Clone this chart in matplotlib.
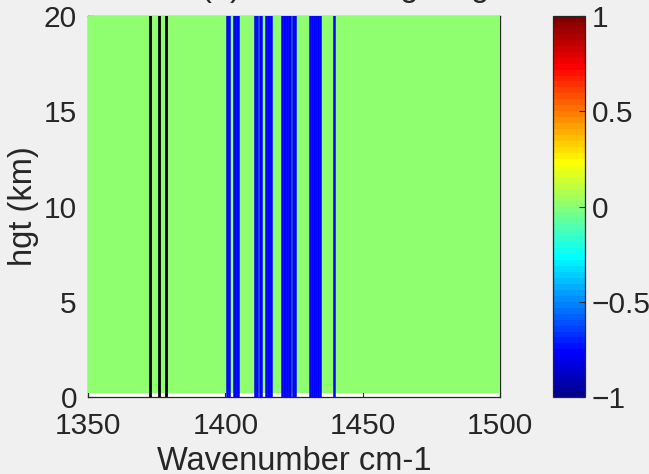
import matplotlib
matplotlib.use("Agg")
import matplotlib.pyplot as plt
import numpy as np
from matplotlib.colors import ListedColormap

plt.rcParams['font.family'] = ['Liberation Sans', 'DejaVu Sans']

# field shown with pcolor (flat zero everywhere)
wn_edges = [1350, 1500]
hgt_edges = [0.2, 20]
field = [[0.0]]

# channel markers
black_wn = [1372.7, 1375.85, 1378.5]
blue_wn = [1400.6, 1401.3,
           1403.05, 1403.6, 1404.1, 1404.6,
           1410.8, 1411.5,
           1412.5, 1413.1,
           1414.9, 1415.5, 1416.0, 1416.5,
           1420.6, 1421.2, 1421.8, 1422.4, 1423.0, 1423.5,
           1424.6, 1425.2,
           1430.9, 1431.6, 1432.3,
           1433.0, 1433.7, 1434.5,
           1439.4]

xticks = [1350, 1400, 1450, 1500]
yticks = [0, 5, 10, 15, 20]
cb_ticks = [-1, -0.5, 0, 0.5, 1]
cb_labels = ['\u22121', '\u22120.5', '0', '0.5', '1']
title_txt = 'Lines (a) Water Weighting'


def matlab_jet(m=64):
    # same recipe as matlab's jet(m)
    n = int(np.ceil(m / 4))
    u = np.concatenate([np.arange(1, n + 1) / n, np.ones(n - 1), np.arange(n, 0, -1) / n])
    g = int(np.ceil(n / 2)) - int(m % 4 == 1) + np.arange(1, len(u) + 1)
    r = g + n
    b = g - n
    cm = np.zeros((m, 3))
    cm[r[r <= m] - 1, 0] = u[r <= m]
    cm[g[g <= m] - 1, 1] = u[g <= m]
    cm[b[b >= 1] - 1, 2] = u[b >= 1]
    return ListedColormap(cm)


W, H = 649, 474
txt_col = '#262626'
fig = plt.figure(figsize=(W / 100, H / 100), dpi=100, facecolor='#f0f0f0')
ax = fig.add_axes([88 / W, (H - 397) / H, 412 / W, 381 / H])
ax.set_facecolor('white')

mesh = ax.pcolormesh(wn_edges, hgt_edges, np.array(field), cmap=matlab_jet(64),
                     vmin=-1, vmax=1, zorder=3)
for w in black_wn:
    ax.axvline(w, color='black', lw=2.0, zorder=4)
for w in blue_wn:
    ax.axvline(w, color='blue', lw=1.8, zorder=4)

ax.set_xlim(1350, 1500)
ax.set_ylim(0, 20)
ax.set_xticks(xticks)
ax.set_yticks(yticks)
ax.tick_params(direction='in', length=4, width=0.8, color=txt_col,
               labelsize=21.5, labelcolor=txt_col)
ax.tick_params(axis='x', pad=11)
ax.tick_params(axis='y', pad=8)
for s in ax.spines.values():
    s.set_color(txt_col)
    s.set_linewidth(0.9)
ax.set_xlabel('Wavenumber cm-1', fontsize=23.5, color=txt_col, labelpad=4)
ax.set_ylabel('hgt (km)', fontsize=23.5, color=txt_col, labelpad=3)

fig.text(114 / W, (H + 4) / H, title_txt, fontsize=23.5, color=txt_col,
         ha='left', va='baseline')

cax = fig.add_axes([553 / W, (H - 397) / H, 31.5 / W, 381 / H])
cb = fig.colorbar(mesh, cax=cax, ticks=cb_ticks)
cb.set_ticklabels(cb_labels)
cb.outline.set_edgecolor(txt_col)
cb.outline.set_linewidth(0.9)
cax.tick_params(direction='in', length=4, width=0.8, color=txt_col,
                labelsize=21.5, labelcolor=txt_col, pad=5)

fig.savefig('out.png', dpi=100, facecolor=fig.get_facecolor())
